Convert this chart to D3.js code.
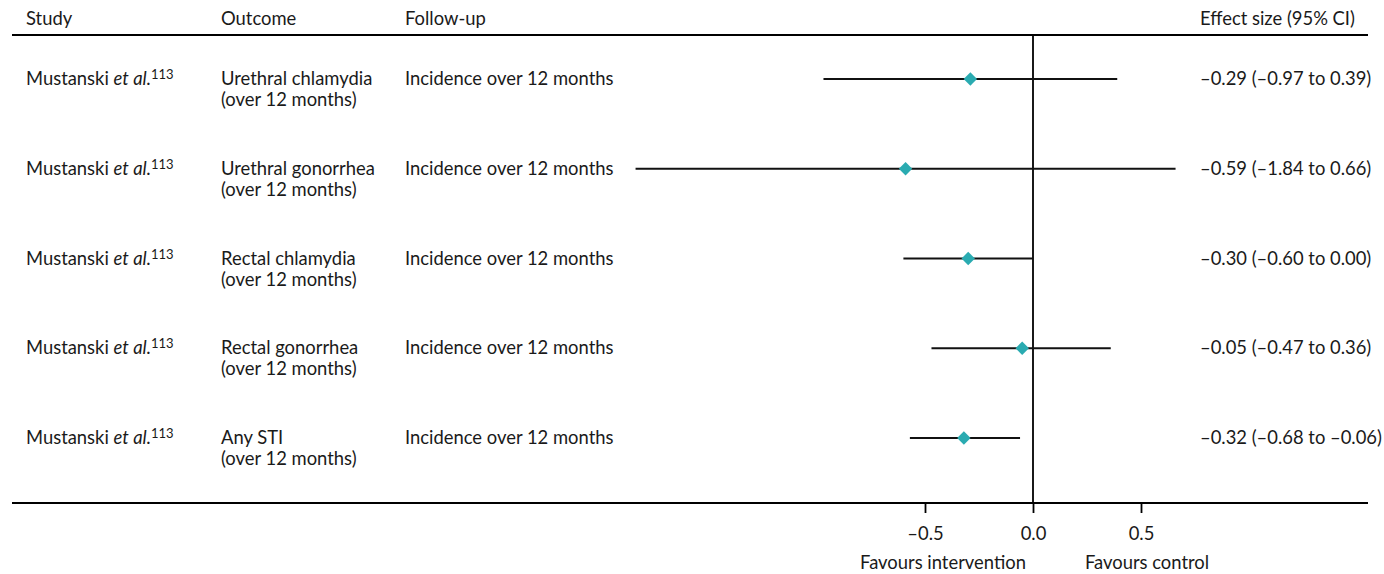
<!DOCTYPE html>
<html>
<head>
<meta charset="utf-8">
<script src="https://cdn.jsdelivr.net/npm/d3@7"></script>
<style>
  body { margin: 0; background: #fff; }
  text { font-family: Lato, "Open Sans", sans-serif; fill: #1a1a1a; }
</style>
</head>
<body>
<div id="chart-container"></div>
<script>
// --- data ---
const studies = ["Mustanski", "Mustanski", "Mustanski", "Mustanski", "Mustanski"];
const outcomes = [
  ["Urethral chlamydia", "(over 12 months)"],
  ["Urethral gonorrhea", "(over 12 months)"],
  ["Rectal chlamydia", "(over 12 months)"],
  ["Rectal gonorrhea", "(over 12 months)"],
  ["Any STI", "(over 12 months)"]
];
const followUps = ["Incidence over 12 months", "Incidence over 12 months", "Incidence over 12 months",
  "Incidence over 12 months", "Incidence over 12 months"];
const estimates = [-0.29, -0.59, -0.30, -0.05, -0.32];
// CI ends as drawn in the figure
const lowers = [-0.97, -1.84, -0.60, -0.47, -0.57];
const uppers = [0.39, 0.66, 0.00, 0.36, -0.06];
const effectLabels = [
  "–0.29 (–0.97 to 0.39)",
  "–0.59 (–1.84 to 0.66)",
  "–0.30 (–0.60 to 0.00)",
  "–0.05 (–0.47 to 0.36)",
  "–0.32 (–0.68 to –0.06)"
];
const tickValues = [-0.5, 0, 0.5];

// --- setup ---
const width = 1384, height = 574;
const fontSize = 18.4;

const svg = d3.select("#chart-container")
  .append("svg")
  .attr("width", width)
  .attr("height", height);

const x = d3.scaleLinear().domain([-1, 1]).range([817, 1249]);
const y = d3.scalePoint()
  .domain(d3.range(estimates.length))
  .range([79, 438]);

const topY = 35, bottomY = 503;
const cols = { study: 26, outcome: 221, follow: 405, effect: 1200 };

// header
const header = svg.append("g").style("font-size", fontSize + "px");
header.append("text").attr("x", cols.study).attr("y", 25).text("Study");
header.append("text").attr("x", cols.outcome).attr("y", 25).text("Outcome");
header.append("text").attr("x", cols.follow).attr("y", 25).text("Follow-up");
header.append("text").attr("x", cols.effect).attr("y", 25).text("Effect size (95% CI)");

svg.append("line")
  .attr("x1", 12).attr("x2", 1368)
  .attr("y1", topY).attr("y2", topY)
  .style("stroke", "#000").style("stroke-width", 2.2);

svg.append("line")
  .attr("x1", 12).attr("x2", 1368)
  .attr("y1", bottomY).attr("y2", bottomY)
  .style("stroke", "#000").style("stroke-width", 2.2);

// null line
svg.append("line")
  .attr("x1", x(0)).attr("x2", x(0))
  .attr("y1", topY).attr("y2", bottomY)
  .style("stroke", "#000").style("stroke-width", 1.8);

// rows
const rows = svg.selectAll("g.row")
  .data(estimates)
  .enter()
  .append("g")
  .attr("class", "row")
  .style("font-size", fontSize + "px");

const studyText = rows.append("text")
  .attr("x", cols.study)
  .attr("y", (d, i) => y(i) + 6);
studyText.append("tspan").text((d, i) => studies[i] + " ");
studyText.append("tspan").style("font-style", "italic").text("et al.");
studyText.append("tspan")
  .attr("dy", -6)
  .style("font-size", "13px")
  .text("113");

rows.append("text")
  .attr("x", cols.outcome)
  .attr("y", (d, i) => y(i) + 6)
  .text((d, i) => outcomes[i][0]);
rows.append("text")
  .attr("x", cols.outcome)
  .attr("y", (d, i) => y(i) + 27)
  .text((d, i) => outcomes[i][1]);

rows.append("text")
  .attr("x", cols.follow)
  .attr("y", (d, i) => y(i) + 6)
  .text((d, i) => followUps[i]);

rows.append("text")
  .attr("x", cols.effect)
  .attr("y", (d, i) => y(i) + 6)
  .text((d, i) => effectLabels[i]);

rows.append("line")
  .attr("x1", (d, i) => x(lowers[i]))
  .attr("x2", (d, i) => x(uppers[i]))
  .attr("y1", (d, i) => y(i))
  .attr("y2", (d, i) => y(i))
  .style("stroke", "#111")
  .style("stroke-width", 2);

rows.append("path")
  .attr("d", d3.symbol().type(d3.symbolSquare).size(90))
  .attr("transform", (d, i) => `translate(${x(d)},${y(i)}) rotate(45)`)
  .style("fill", "#2aabb1");

// axis
const axis = svg.append("g")
  .attr("transform", `translate(0,${bottomY})`)
  .call(d3.axisBottom(x)
    .tickValues(tickValues)
    .tickSize(10)
    .tickPadding(14)
    .tickFormat(d => d3.format(".1f")(d).replace("−", "–").replace("-", "–")));
axis.select(".domain").remove();
axis.selectAll(".tick line").style("stroke", "#000").style("stroke-width", 1.8);
axis.selectAll(".tick text")
  .style("font-family", "Lato, sans-serif")
  .style("font-size", fontSize + "px")
  .style("fill", "#1a1a1a");

svg.append("text")
  .attr("x", x(-0.5) + 18)
  .attr("y", 569)
  .attr("text-anchor", "middle")
  .style("font-size", fontSize + "px")
  .text("Favours intervention");
svg.append("text")
  .attr("x", x(0.5) + 6)
  .attr("y", 569)
  .attr("text-anchor", "middle")
  .style("font-size", fontSize + "px")
  .text("Favours control");
</script>
</body>
</html>
